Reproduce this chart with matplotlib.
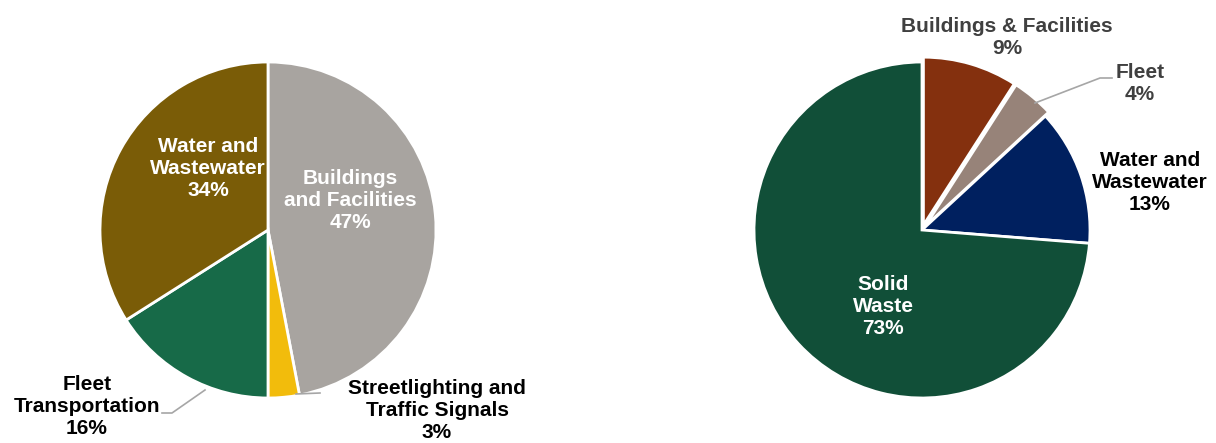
import matplotlib.pyplot as plt

plt.rcParams['font.family'] = ['Liberation Sans', 'DejaVu Sans']
plt.rcParams['font.weight'] = 'bold'

# left pie: share by sector
left_labels = ['Buildings\nand Facilities', 'Streetlighting and\nTraffic Signals',
               'Fleet\nTransportation', 'Water and\nWastewater']
left_values = [47, 3, 16, 34]
left_colors = ['#A8A4A0', '#F2BC0C', '#176A48', '#7A5C07']

# right pie
right_labels = ['Buildings & Facilities', 'Fleet', 'Water and\nWastewater', 'Solid\nWaste']
right_values = [9, 4, 13, 73]
right_colors = ['#84300E', '#978379', '#00205F', '#114F38']

W, H = 1216, 443
R = 168.0
fig = plt.figure(figsize=(W / 100, H / 100), dpi=100)


def make_ax(x0, x1, cx, cy):
    # axes spanning pixel columns x0..x1, scaled so the pie radius is R pixels
    ax = fig.add_axes([x0 / W, 0, (x1 - x0) / W, 1])
    return ax, (lambda px, py: ((px - cx) / R, (cy - py) / R)), (x0, x1, cx, cy)


def finish(ax, ext):
    x0, x1, cx, cy = ext
    ax.set_aspect('auto')
    ax.set_xlim((x0 - cx) / R, (x1 - cx) / R)
    ax.set_ylim((cy - H) / R, cy / R)
    ax.axis('off')


def label(ax, conv, px, py, text, color):
    x, y = conv(px, py)
    ax.text(x, y, text, ha='center', va='center', fontsize=15,
            fontweight='bold', color=color, linespacing=1.2)


# ---- left
ax1, c1, e1 = make_ax(0, 608, 268, 230)
ax1.pie(left_values, colors=left_colors, startangle=90, counterclock=False,
        radius=1, wedgeprops=dict(edgecolor='white', linewidth=2))
finish(ax1, e1)
label(ax1, c1, 350, 200, f'{left_labels[0]}\n{left_values[0]}%', 'white')
label(ax1, c1, 208, 168, f'{left_labels[3]}\n{left_values[3]}%', 'white')
label(ax1, c1, 87, 406, f'{left_labels[2]}\n{left_values[2]}%', 'black')
label(ax1, c1, 437, 410, f'{left_labels[1]}\n{left_values[1]}%', 'black')
# leader lines
pts = [c1(162, 413), c1(172, 413), c1(205, 390)]
ax1.plot([p[0] for p in pts], [p[1] for p in pts], color='#A6A6A6', lw=1.2)
pts = [c1(296, 394), c1(320, 393)]
ax1.plot([p[0] for p in pts], [p[1] for p in pts], color='#A6A6A6', lw=1.2)

# ---- right
ax2, c2, e2 = make_ax(608, 1216, 922, 230)
ax2.pie(right_values, colors=right_colors, startangle=90, counterclock=False,
        radius=1, explode=[0.03, 0.03, 0, 0],
        wedgeprops=dict(edgecolor='white', linewidth=2))
finish(ax2, e2)
label(ax2, c2, 1007, 38, f'{right_labels[0]}\n{right_values[0]}%', '#404040')
label(ax2, c2, 1140, 83, f'{right_labels[1]}\n{right_values[1]}%', '#404040')
label(ax2, c2, 1150, 182, f'{right_labels[2]}\n{right_values[2]}%', 'black')
label(ax2, c2, 883, 306, f'{right_labels[3]}\n{right_values[3]}%', 'white')
pts = [c2(1035, 103), c2(1100, 78), c2(1112, 78)]
ax2.plot([p[0] for p in pts], [p[1] for p in pts], color='#A6A6A6', lw=1.2)

fig.savefig('out.png', dpi=100)
